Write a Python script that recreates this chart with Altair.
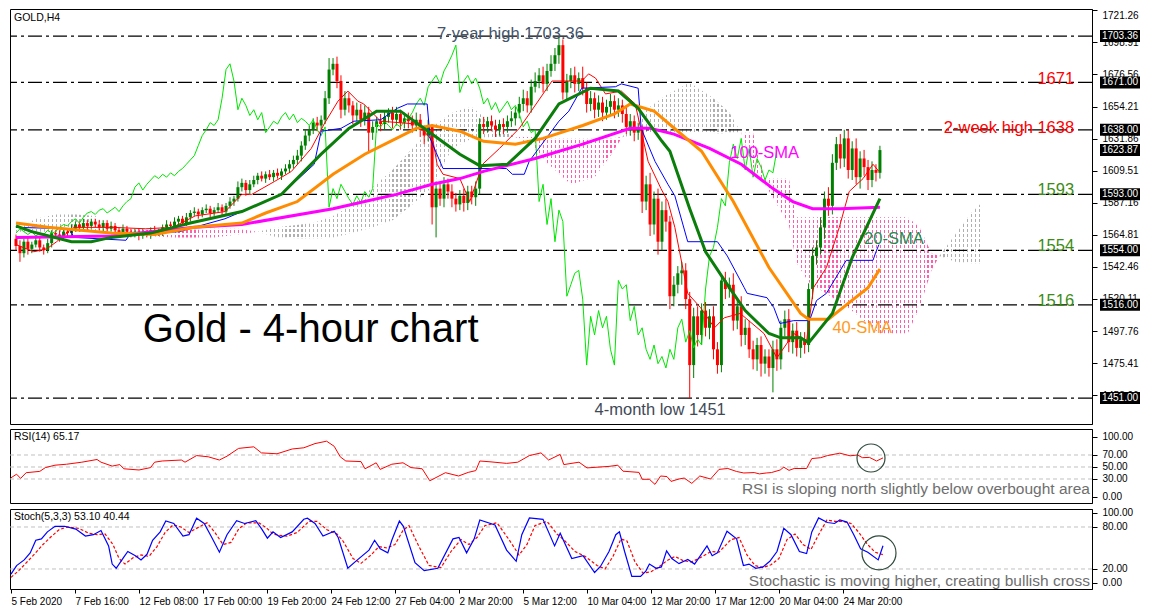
import json
import altair as alt
import numpy as np
import pandas as pd

# ---------------- layout / style constants ----------------
W = 1082
H_MAIN, H_RSI, H_STO = 415, 74, 80
PX_PER_USD = 1.4347
P_TOP = 1722.2
P_DOM = [P_TOP - H_MAIN / PX_PER_USD, P_TOP]
X_DOM = [-0.25, 270.25]
R_DOM = [-10, 113.3]
S_DOM = [-8.6, 105.7]
FONT = 'Liberation Sans'

# ---------------- data ----------------
date_labels = ['5 Feb 2020', '7 Feb 16:00', '12 Feb 08:00', '17 Feb 00:00', '19 Feb 20:00',
               '24 Feb 12:00', '27 Feb 04:00', '2 Mar 20:00', '5 Mar 12:00', '10 Mar 04:00',
               '12 Mar 20:00', '17 Mar 12:00', '20 Mar 04:00', '24 Mar 20:00']
bars_per_label = 16

price_ticks = [1721.26, 1698.91, 1676.56, 1654.21, 1631.86, 1609.51, 1587.16, 1564.81,
               1542.46, 1520.11, 1497.76, 1475.41, 1453.06]
level_prices = [1703.36, 1671.0, 1638.0, 1593.0, 1554.0, 1516.0, 1451.0]
box_prices = [1703.36, 1671.0, 1638.0, 1623.87, 1593.0, 1554.0, 1516.0, 1451.0]

first_open = 1562.0
closes = [
    1557, 1552, 1560, 1555, 1558, 1561, 1556, 1554, 1559, 1566,
    1565, 1563, 1567, 1566, 1569, 1572, 1570, 1573, 1571, 1574,
    1572, 1570, 1573, 1569, 1571, 1568, 1566, 1569, 1567, 1565,
    1567, 1564, 1566, 1565, 1568, 1566, 1567, 1570, 1572, 1571,
    1574, 1576, 1573, 1577, 1580, 1581, 1579, 1582, 1583, 1580,
    1582, 1584, 1581, 1585, 1588, 1590, 1598, 1601, 1596, 1600,
    1603, 1606, 1604, 1607, 1605, 1608, 1606, 1609, 1611, 1614,
    1617, 1620, 1627, 1634, 1638, 1643, 1641, 1645, 1660, 1680,
    1684, 1672, 1652, 1660, 1655, 1648, 1652, 1645, 1650, 1636,
    1640, 1644, 1642, 1647, 1650, 1645, 1649, 1643, 1646, 1644,
    1641, 1645, 1638, 1634, 1640, 1584, 1597, 1590, 1600, 1595,
    1590, 1586, 1592, 1587, 1595, 1591, 1597, 1642, 1640, 1644,
    1641, 1638, 1642, 1640, 1644, 1646, 1650, 1656, 1660, 1655,
    1668, 1672, 1676, 1670, 1679, 1684, 1690, 1697, 1664, 1672,
    1676, 1670, 1674, 1667, 1656, 1660, 1652, 1657, 1650, 1654,
    1658, 1652, 1655, 1649, 1640, 1644, 1636, 1638, 1588, 1600,
    1572, 1590, 1560, 1582, 1574, 1522, 1530, 1538, 1540, 1520,
    1474, 1508, 1495, 1512, 1500, 1508, 1485, 1474, 1533, 1527,
    1530, 1505, 1515, 1495, 1500, 1485, 1478, 1488, 1475, 1480,
    1472, 1485, 1478, 1500, 1506, 1490, 1498, 1486, 1492, 1488,
    1527, 1550, 1556, 1570, 1590, 1585, 1615, 1628, 1618, 1632,
    1610, 1625, 1605, 1618, 1612, 1603, 1610, 1608, 1623.87]
wick_up = [
    3, 4, 2, 3, 2, 3, 2, 2, 3, 2,
    2, 3, 2, 2, 3, 2, 2, 3, 2, 2,
    2, 3, 2, 2, 3, 2, 2, 3, 2, 2,
    2, 2, 3, 2, 2, 3, 2, 2, 3, 2,
    3, 2, 2, 3, 2, 3, 2, 2, 3, 2,
    2, 3, 2, 2, 3, 2, 4, 3, 2, 3,
    3, 2, 3, 2, 3, 2, 3, 2, 3, 3,
    3, 4, 3, 4, 3, 3, 4, 3, 5, 8,
    4, 5, 4, 5, 4, 3, 5, 4, 5, 4,
    4, 3, 5, 4, 3, 4, 5, 3, 4, 4,
    4, 5, 4, 3, 5, 2, 5, 4, 5, 4,
    5, 4, 4, 5, 4, 4, 5, 4, 5, 3,
    4, 4, 3, 4, 4, 5, 4, 5, 6, 5,
    5, 6, 5, 6, 5, 6, 5, 6.36, 4, 5,
    5, 6, 4, 8, 4, 5, 4, 5, 4, 5,
    5, 4, 5, 4, 6, 5, 4, 5, 3, 6,
    8, 5, 7, 6, 8, 4, 6, 5, 6, 5,
    5, 6, 7, 5, 6, 5, 7, 5, 4, 6,
    5, 8, 6, 7, 6, 5, 6, 5, 6, 5,
    5, 6, 7, 5, 6, 7, 5, 6, 5, 5,
    4, 6, 5, 7, 5, 8, 6, 5, 7, 6,
    6, 5, 7, 5, 6, 5, 6, 4, 3]
wick_dn = [
    3, 6, 3, 4, 3, 2, 3, 3, 2, 3,
    2, 3, 2, 3, 2, 2, 3, 2, 3, 2,
    2, 2, 3, 2, 2, 3, 2, 2, 3, 2,
    2, 3, 2, 2, 3, 2, 2, 3, 2, 2,
    2, 3, 2, 2, 3, 2, 3, 2, 2, 3,
    2, 2, 3, 2, 2, 3, 2, 3, 4, 3,
    2, 3, 2, 3, 2, 3, 2, 3, 2, 3,
    3, 3, 4, 3, 4, 3, 4, 3, 3, 4,
    4, 5, 6, 4, 5, 6, 4, 5, 4, 13,
    5, 4, 5, 4, 4, 6, 4, 5, 4, 5,
    5, 4, 5, 6, 4, 12, 21, 5, 6, 5,
    6, 5, 4, 6, 5, 5, 6, 4, 5, 4,
    4, 5, 4, 5, 4, 4, 5, 4, 5, 5,
    5, 4, 5, 6, 5, 4, 5, 6, 5, 5,
    5, 6, 5, 5, 6, 5, 6, 5, 6, 5,
    5, 6, 5, 6, 5, 6, 6, 5, 8, 6,
    8, 7, 9, 6, 7, 9, 7, 6, 8, 7,
    23, 9, 8, 7, 6, 8, 7, 6, 5, 7,
    6, 7, 6, 8, 7, 6, 7, 8, 9, 7,
    6, 17, 8, 7, 6, 7, 8, 6, 7, 6,
    5, 7, 6, 5, 8, 7, 6, 5, 7, 6,
    6, 7, 5, 8, 6, 7, 5, 6, 4]
chikou_shift = 26

sma20_i = [0, 4, 14, 19, 24, 34, 44, 57, 67, 77, 84, 91, 97, 104, 112, 117, 124, 131, 137, 145,
           152, 157, 163, 165, 167, 170, 174, 180, 184, 190, 193, 198, 200, 206, 211, 218]
sma20_v = [1571, 1567, 1560, 1560, 1563, 1566, 1573, 1581, 1593, 1621, 1639, 1651, 1651, 1637, 1621,
           1613, 1614, 1632, 1656, 1667, 1665, 1653, 1630, 1623, 1607, 1583, 1553, 1528, 1512, 1496,
           1493, 1493, 1489.5, 1510, 1549, 1590]
sma40_i = [0, 8, 24, 35, 45, 57, 63, 71, 80, 88, 96, 101, 105, 112, 118, 126, 133, 143, 151, 155,
           161, 167, 173, 181, 190, 198, 200, 205, 210, 215, 218]
sma40_v = [1573, 1570, 1566, 1565, 1570, 1573, 1580, 1588, 1607, 1621, 1632, 1639, 1641, 1637, 1630,
           1628, 1632, 1641, 1649, 1656, 1651, 1637, 1623, 1588, 1542, 1510, 1506, 1506, 1517, 1528, 1541]
sma100_i = [0, 24, 45, 57, 80, 88, 96, 105, 112, 118, 131, 143, 155, 160, 166, 175, 183, 191, 196,
            201, 208, 218]
sma100_v = [1563, 1564, 1570, 1572, 1583, 1588, 1593, 1600, 1604, 1609, 1618, 1628, 1639, 1639, 1635,
            1625, 1614, 1597, 1588, 1583, 1583, 1584]

tenkan_i = [0, 4.5, 7.75, 10.25, 14.5, 24.5, 32.75, 39.5, 45.25, 52.75, 57, 59.5, 65.25, 69.5, 74.5,
            77.75, 81.25, 83.75, 86.25, 87.75, 92, 101.25, 105.25, 106.25, 107.75, 112, 114.5, 117.75,
            122, 127, 131.25, 135.25, 142.75, 144.5, 146.25, 148.75, 152.75, 156.25, 159.5, 162.75,
            164.5, 166.25, 169.5, 172.75, 176.25, 178.75, 182.75, 188.75, 192, 196.25, 199.5, 201.25,
            204.5, 207.75, 210.25, 213.75, 216.25, 217.75]
tenkan_v = [1558, 1553, 1555, 1560, 1570, 1570, 1569, 1570, 1578, 1581, 1593, 1593, 1602, 1609, 1625,
            1642, 1658, 1665, 1658, 1656, 1644, 1642, 1630, 1614, 1607, 1604, 1588, 1614, 1625, 1639,
            1656, 1672, 1672, 1677, 1674, 1663, 1665, 1656, 1616, 1597, 1588, 1570, 1524, 1514, 1500,
            1507, 1510, 1496, 1479, 1496, 1491, 1528, 1542, 1570, 1595, 1604, 1614, 1609]
kijun_i = [0, 13.75, 14.5, 27.75, 28.75, 41.25, 46.25, 52.75, 57, 67, 75.25, 77, 82, 85.25, 92, 96.25,
           98.75, 103.75, 104.5, 107.75, 123.75, 125.25, 128.25, 129.5, 137, 139.5, 142.75, 151.25,
           152.75, 157, 157.75, 161.25, 164.5, 166.25, 169.5, 177, 179.5, 183.75, 184.5, 189.5, 191.25,
           192.75, 196.25, 200.25, 202, 204.5, 209.5, 216.25, 217, 217.75]
kijun_v = [1570, 1569, 1563, 1561, 1565, 1567, 1571, 1576, 1581, 1593, 1614, 1637, 1639, 1644, 1645,
           1653, 1656, 1656, 1632, 1611, 1611, 1607, 1607, 1616, 1644, 1651, 1667, 1668, 1670, 1667,
           1639, 1616, 1600, 1592, 1560, 1560, 1550, 1528, 1524, 1521, 1514, 1503, 1505, 1505, 1519,
           1524, 1547, 1547, 1553, 1558]

cloud_j = [0, 5, 10, 15, 20, 24, 26, 33, 40, 50, 56, 61, 66, 75, 80, 85, 90, 95, 100, 105,
           110, 115, 120, 126, 130, 134, 140, 146, 150, 153, 158, 164, 170, 176, 180, 183, 186, 189,
           195, 197, 200, 210, 218, 225, 228, 231, 233, 237, 241, 244]
span_a = [1568, 1576, 1579, 1579, 1578, 1568, 1566, 1564, 1563, 1563, 1565, 1567, 1570, 1573, 1578,
          1586, 1598, 1610, 1625, 1640, 1650, 1654, 1642, 1633, 1628, 1615, 1600, 1605, 1620, 1633,
          1650, 1662, 1671, 1660, 1650, 1636, 1612, 1600, 1572, 1545, 1532, 1514, 1496, 1496, 1514,
          1540, 1550, 1565, 1580, 1588]
span_b = [1567, 1567, 1567, 1567, 1567, 1568, 1568, 1569, 1568, 1569, 1569, 1567, 1563, 1562, 1563,
          1566, 1570, 1575, 1586, 1598, 1625, 1632, 1633, 1633, 1633, 1632, 1632, 1632, 1632, 1633,
          1635, 1635, 1635, 1635, 1636, 1636, 1636, 1604, 1604, 1577, 1577, 1577, 1577, 1577, 1570,
          1552, 1550, 1546, 1545, 1545]

rsi_i = [0, 1.4, 2.4, 3.8, 7.2, 8.6, 11, 13.9, 17.7, 21.5, 22.5, 25.3, 27.2, 28.2, 32, 34.9, 35.9,
         37.8, 42.6, 43.5, 46.4, 49.3, 52.1, 54, 56.9, 60.7, 62.6, 66.5, 70.3, 73.2, 76, 78.9, 80.8,
         82.3, 83.7, 87.5, 88.5, 91.3, 92.3, 95.2, 98, 100, 102.8, 104.7, 108.6, 111.9, 114.3, 116.2,
         117.2, 120, 123.9, 126.7, 129.6, 132.5, 134.4, 137.3, 138.2, 142, 144, 149.5, 151.7, 153,
         157, 157.8, 159.6, 161, 162.4, 164, 165, 167, 168.3, 170.2, 172.2, 174.9, 177, 179.2, 181.4,
         183.2, 185.8, 187.1, 188.8, 190.1, 192.3, 193.2, 194.5, 195.8, 198.9, 200.2, 202.4, 204.1,
         207.2, 209.8, 211.6, 212.9, 214.6, 216.4, 218]
rsi_v = [32, 38, 31, 40.5, 42.7, 49, 53, 54.6, 58, 62.5, 58, 51.5, 54, 47, 45, 49, 58, 60, 61.6, 58,
         69, 67, 61.6, 68, 81, 83.6, 73.5, 72, 80, 82, 89, 93, 84.5, 67, 60, 59, 47, 57, 46, 54.6,
         57, 49, 47, 27, 40.5, 35, 41, 44, 60, 58.5, 56, 58, 69, 73.5, 61.6, 71, 54, 58, 48.5, 51,
         53, 43, 41, 29.5, 29.5, 21, 35, 34, 26, 30, 31.6, 22.7, 35, 30, 46, 47.5, 42.5, 40, 40.7,
         38.5, 40, 40.7, 45, 49.7, 44.4, 47.5, 47.5, 64, 65.5, 69, 73, 68.6, 70, 65.5, 66, 60, 65.17]

stoch_k_i = [0, 1.4, 3.3, 4.8, 6.2, 7.6, 9.1, 11, 13.4, 16.2, 18.6, 20.6, 22.5, 24.4, 25.3, 26.3,
             28.2, 29.2, 31.1, 32.5, 34, 35.4, 37.3, 38.7, 40.7, 43, 44.5, 46.4, 48.3, 50.2, 52.1, 54,
             56.4, 58.4, 61.2, 62.7, 64.1, 65.5, 67.4, 70.3, 73.2, 74.1, 76, 78, 80.8, 81.8, 84.2,
             86.6, 89.5, 90.9, 92.3, 94.2, 95.2, 97.1, 98.1, 101, 103.3, 106.7, 110.5, 112, 113.9,
             115.8, 117.2, 121, 123.9, 126.3, 127.7, 129.6, 133, 135.9, 137.3, 140.2, 143, 145.9,
             147.4, 149.5, 151.2, 152.1, 153.4, 155.2, 157.4, 158.7, 159.6, 161.3, 162.6, 163.9,
             165.2, 167, 169.2, 170.9, 174, 175.3, 176.6, 179, 181.4, 183.1, 184.5, 186.2, 188,
             189.7, 191.5, 193.2, 195, 197.1, 198.9, 200.2, 201.9, 204.1, 205.9, 207.2, 209, 210.7,
             212.4, 214.2, 216.8, 218]
stoch_k_v = [12.7, 24.8, 33, 43, 61, 63, 73, 81, 81, 77, 67, 69, 75, 53, 27, 21, 37, 45, 39, 33,
             41, 61, 73, 88.5, 85, 67, 69, 92.5, 85, 65, 44, 69, 89, 85, 89, 77, 64, 73, 65, 73,
             91, 92.5, 85, 67, 74, 65, 21, 33, 47, 61, 49, 43, 61, 88.5, 81, 29, 17.6, 21, 63, 65,
             43, 63, 90, 83, 47, 31, 69, 93, 91, 53, 71, 35, 39, 15, 24, 45, 69, 73, 45, 9.5,
             9.5, 17, 27, 21, 23, 45.8, 35, 27.6, 33.7, 27, 53, 39, 43, 74, 63, 25, 27, 21, 23, 31,
             45, 78, 69, 45, 42, 73, 93, 86.4, 85, 90, 87, 69, 49, 44, 33, 53.1]
stoch_d_i = [0, 2, 4, 6, 8, 10, 12, 14, 17, 19.5, 21.5, 23.5, 25.5, 27, 28.5, 30.5, 32.5, 34.5, 36.5,
             38.5, 40.5, 42.5, 44.5, 47, 49, 51, 53, 55, 57, 59, 62, 64, 65.5, 67, 69, 71.5, 74.5,
             76.5, 79, 81.5, 83, 85.5, 87.5, 90, 92, 94, 96, 98, 99.5, 102, 104.5, 107.5, 110, 112.5,
             114.5, 116.5, 118.5, 121.5, 124.5, 127, 129, 131, 134, 136.5, 138.5, 141, 143.5, 146.5,
             148.5, 150.5, 152.5, 154, 156, 158, 160, 162, 164, 166, 168, 170, 172, 175, 177, 180,
             182, 184, 186, 188, 190, 192, 194, 196, 198, 200, 202, 204, 206, 208, 210, 212, 214,
             216, 218]
stoch_d_v = [8, 18, 30, 42, 55, 66, 76, 80, 78, 71, 69, 70, 55, 35, 27, 36, 40, 38, 52, 72, 83, 80,
             72, 80, 86, 72, 55, 58, 78, 86, 86, 78, 70, 68, 67, 72, 88, 88, 76, 70, 60, 35, 28, 40,
             52, 50, 55, 75, 82, 52, 25, 22, 45, 62, 55, 65, 82, 86, 62, 40, 55, 82, 88, 70, 60, 45,
             38, 25, 20, 38, 63, 60, 30, 14, 16, 23, 32, 38, 32, 30, 35, 45, 44, 62, 65, 40, 25, 22,
             26, 35, 62, 70, 55, 48, 70, 90, 88, 88, 85, 72, 56, 44, 40.44]

# ---------------- tables ----------------
n = len(closes)
opens = [first_open] + closes[:-1]
candles = pd.DataFrame({'i': range(n), 'o': opens, 'c': closes})
candles['h'] = candles[['o', 'c']].max(axis=1) + np.array(wick_up)
candles['l'] = candles[['o', 'c']].min(axis=1) - np.array(wick_dn)
candles['dir'] = np.where(candles['c'] >= candles['o'], 'up', 'down')

chikou = pd.DataFrame({'i': [k - chikou_shift for k in range(chikou_shift, n)],
                       'v': closes[chikou_shift:]})
cloud = pd.DataFrame({'j': cloud_j, 'a': span_a, 'b': span_b})
cloud['lo'] = cloud[['a', 'b']].min(axis=1)


def line_df(idx, vals):
    return pd.DataFrame({'i': idx, 'v': vals})


# ---------------- encodings ----------------
xscale = alt.Scale(domain=X_DOM, nice=False, zero=False)
label_expr = json.dumps(date_labels) + f'[round(datum.value / {bars_per_label})]'
x_axis_bottom = alt.Axis(values=list(range(0, bars_per_label * len(date_labels), bars_per_label)),
                         labelExpr=label_expr, labelAlign='left', labelPadding=3, tickSize=4,
                         title=None, grid=False, labelOverlap=False, labelFontSize=10,
                         domain=False, labelBound=False)


def XQ(field, axis=None):
    return alt.X(f'{field}:Q', scale=xscale, axis=axis)


p_axis = alt.Axis(orient='right', values=price_ticks, format='.2f', title=None, grid=False,
                  tickSize=5, labelPadding=5, labelFlush=4)
r_axis = alt.Axis(orient='right', values=[0, 30, 50, 70, 100], format='.2f', title=None,
                  grid=False, tickSize=5, labelPadding=5)
s_axis = alt.Axis(orient='right', values=[0, 20, 80, 100], format='.2f', title=None,
                  grid=False, tickSize=5, labelPadding=5)


def YP(field):
    return alt.Y(f'{field}:Q', scale=alt.Scale(domain=P_DOM, nice=False, zero=False), axis=p_axis)


def YR(field):
    return alt.Y(f'{field}:Q', scale=alt.Scale(domain=R_DOM, nice=False, zero=False), axis=r_axis)


def YS(field):
    return alt.Y(f'{field}:Q', scale=alt.Scale(domain=S_DOM, nice=False, zero=False), axis=s_axis)


def stripes(color, nbars, on=0.3):
    """vertical hatch lines, one per bar (styling of the cloud fill)"""
    stops = []
    for k in range(nbars):
        a, b, c = k / nbars, (k + on) / nbars, (k + 1) / nbars
        stops += [alt.GradientStop(color=color, offset=a), alt.GradientStop(color=color, offset=b),
                  alt.GradientStop(color='#ffffff', offset=b), alt.GradientStop(color='#ffffff', offset=c)]
    return alt.LinearGradient(gradient='linear', stops=stops, x1=0, x2=1, y1=0, y2=0)


def dash_breaks(height_px, period=5.0, gap=2.0):
    """white horizontal breaks that turn the hatch lines into dotted lines"""
    stops = []
    k = 0
    clear = 'rgba(255,255,255,0)'
    while k * period < height_px:
        a = min(1.0, k * period / height_px)
        b = min(1.0, (k * period + gap) / height_px)
        c = min(1.0, (k + 1) * period / height_px)
        stops += [alt.GradientStop(color='#ffffff', offset=a), alt.GradientStop(color='#ffffff', offset=b),
                  alt.GradientStop(color=clear, offset=b), alt.GradientStop(color=clear, offset=c)]
        k += 1
    return alt.LinearGradient(gradient='linear', stops=stops, x1=0, x2=0, y1=0, y2=1)


nb = cloud_j[-1] - cloud_j[0]
lo_min = float(cloud['lo'].min())
h_pink = (max(span_b) - lo_min) * PX_PER_USD
h_gray = (max(span_a) - lo_min) * PX_PER_USD

# ---------------- main panel ----------------
cloud_gray = alt.Chart(cloud).mark_area(color=stripes('#b0b0b0', nb)).encode(
    x=XQ('j'), y=YP('a'), y2=alt.Y2('lo'))
cloud_gray_d = alt.Chart(cloud).mark_area(color=dash_breaks(h_gray)).encode(
    x=XQ('j'), y=YP('a'), y2=alt.Y2('lo'))
cloud_pink = alt.Chart(cloud).mark_area(color=stripes('#ff5cae', nb)).encode(
    x=XQ('j'), y=YP('b'), y2=alt.Y2('lo'))
cloud_pink_d = alt.Chart(cloud).mark_area(color=dash_breaks(h_pink)).encode(
    x=XQ('j'), y=YP('b'), y2=alt.Y2('lo'))

levels = alt.Chart(pd.DataFrame({'p': level_prices})).mark_rule(
    color='black', strokeWidth=1.3, strokeDash=[14, 4, 3, 4]).encode(y=YP('p'))

ccol = alt.Color('dir:N', scale=alt.Scale(domain=['up', 'down'], range=['#008000', '#ff0000']),
                 legend=None)
wicks = alt.Chart(candles).mark_rule(strokeWidth=1).encode(x=XQ('i'), y=YP('l'), y2=alt.Y2('h'),
                                                            color=ccol)
bodies = alt.Chart(candles).mark_bar(size=3).encode(x=XQ('i'), y=YP('o'), y2=alt.Y2('c'), color=ccol)

chikou_l = alt.Chart(chikou).mark_line(color='#00e600', strokeWidth=1).encode(x=XQ('i'), y=YP('v'))
tenkan_l = alt.Chart(line_df(tenkan_i, tenkan_v)).mark_line(color='#ff0000', strokeWidth=1).encode(
    x=XQ('i'), y=YP('v'))
kijun_l = alt.Chart(line_df(kijun_i, kijun_v)).mark_line(color='#0000ff', strokeWidth=1).encode(
    x=XQ('i'), y=YP('v'))
sma100_l = alt.Chart(line_df(sma100_i, sma100_v)).mark_line(color='#ff00ff', strokeWidth=3).encode(
    x=XQ('i'), y=YP('v'))
sma40_l = alt.Chart(line_df(sma40_i, sma40_v)).mark_line(color='#ff8c00', strokeWidth=3).encode(
    x=XQ('i'), y=YP('v'))
sma20_l = alt.Chart(line_df(sma20_i, sma20_v)).mark_line(color='#0a7d0a', strokeWidth=3).encode(
    x=XQ('i'), y=YP('v'))


def ann(i, p, text, color, size=16.5, align='left', baseline='alphabetic', dy=0):
    d = pd.DataFrame({'i': [i], 'p': [p], 't': [text]})
    return alt.Chart(d).mark_text(align=align, baseline=baseline, dy=dy, fontSize=size, font=FONT,
                                  color=color).encode(x=XQ('i'), y=YP('p'), text='t:N')


annotations = [
    ann(106.25, 1703.36, '7-year high 1703.36', '#44546a', dy=3),
    ann(267, 1671.0, '1671', '#ff0000', align='right', dy=2),
    ann(267, 1638.0, '2-week high 1638', '#ff0000', align='right', dy=3),
    ann(267, 1593.0, '1593', '#3c8c14', align='right', dy=1),
    ann(267, 1554.0, '1554', '#3c8c14', align='right', dy=1),
    ann(267, 1516.0, '1516', '#3c8c14', align='right', dy=1),
    ann(180.25, 1618.3, '100-SMA', '#ff00ff'),
    ann(214, 1558.4, '20-SMA', '#1f8a50'),
    ann(206, 1496.4, '40-SMA', '#ff9a1a'),
    ann(146, 1451.0, '4-month low 1451', '#3f4a57', baseline='top', dy=4),
    ann(32, 1490.1, 'Gold - 4-hour chart', '#000000', size=40),
]

boxes_df = pd.DataFrame({'p': box_prices, 't': [f'{v:.2f}' for v in box_prices]})
boxes = alt.Chart(boxes_df).mark_tick(orient='horizontal', size=40, thickness=12, color='black',
                                      opacity=1).encode(x=alt.value(W + 28), y=YP('p'))
box_txt = alt.Chart(boxes_df).mark_text(color='white', fontSize=10, font=FONT, align='center',
                                        baseline='middle').encode(x=alt.value(W + 28), y=YP('p'),
                                                                  text='t:N')
title_main = alt.Chart(pd.DataFrame({'a': [0]})).mark_text(
    text='GOLD,H4', align='left', baseline='top', fontSize=10.5, font=FONT, color='black').encode(
    x=alt.value(4), y=alt.value(4))

main = alt.layer(cloud_gray, cloud_gray_d, cloud_pink, cloud_pink_d, levels, wicks, bodies,
                 chikou_l, tenkan_l, kijun_l, sma100_l, sma40_l, sma20_l, *annotations, boxes,
                 box_txt, title_main).properties(width=W, height=H_MAIN)

# ---------------- RSI panel ----------------
rsi_grid = alt.Chart(pd.DataFrame({'v': [30, 50, 70]})).mark_rule(
    color='#c0c0c0', strokeDash=[4, 3], strokeWidth=1).encode(y=YR('v'))
rsi_line = alt.Chart(line_df(rsi_i, rsi_v)).mark_line(color='#ff0000', strokeWidth=1).encode(
    x=XQ('i'), y=YR('v'))
rsi_circle = alt.Chart(pd.DataFrame({'i': [215], 'v': [65]})).mark_point(
    shape='circle', filled=False, size=784, color='#304a3c', strokeWidth=1.2, opacity=1).encode(
    x=XQ('i'), y=YR('v'))
rsi_title = alt.Chart(pd.DataFrame({'a': [0]})).mark_text(
    text='RSI(14) 65.17', align='left', baseline='top', fontSize=10.5, font=FONT, color='black').encode(
    x=alt.value(4), y=alt.value(3))
rsi_note = alt.Chart(pd.DataFrame({'v': [5]})).mark_text(
    text='RSI is sloping north slightly below overbought area', align='right', baseline='alphabetic',
    fontSize=15.5, font=FONT, color='#6e6e6e').encode(x=alt.value(W - 2), y=YR('v'))
rsi = alt.layer(rsi_grid, rsi_line, rsi_circle, rsi_title, rsi_note).properties(width=W, height=H_RSI)

# ---------------- Stochastic panel ----------------
sto_grid = alt.Chart(pd.DataFrame({'v': [20, 80]})).mark_rule(
    color='#c0c0c0', strokeDash=[4, 3], strokeWidth=1).encode(y=YS('v'))
sto_d = alt.Chart(line_df(stoch_d_i, stoch_d_v)).mark_line(
    color='#ff0000', strokeWidth=1.2, strokeDash=[3, 2]).encode(x=XQ('i', x_axis_bottom), y=YS('v'))
sto_k = alt.Chart(line_df(stoch_k_i, stoch_k_v)).mark_line(color='#0000ff', strokeWidth=1.2).encode(
    x=XQ('i', x_axis_bottom), y=YS('v'))
sto_circle = alt.Chart(pd.DataFrame({'i': [217], 'v': [43]})).mark_point(
    shape='circle', filled=False, size=1156, color='#304a3c', strokeWidth=1.2, opacity=1).encode(
    x=XQ('i', x_axis_bottom), y=YS('v'))
sto_title = alt.Chart(pd.DataFrame({'a': [0]})).mark_text(
    text='Stoch(5,3,3) 53.10 40.44', align='left', baseline='top', fontSize=10.5, font=FONT,
    color='black').encode(x=alt.value(4), y=alt.value(3))
sto_note = alt.Chart(pd.DataFrame({'v': [-5]})).mark_text(
    text='Stochastic is moving higher, creating bullish cross', align='right', baseline='alphabetic',
    fontSize=15.5, font=FONT, color='#6e6e6e').encode(x=alt.value(W - 2), y=YS('v'))
sto = alt.layer(sto_grid, sto_d, sto_k, sto_circle, sto_title, sto_note).properties(
    width=W, height=H_STO)

chart = alt.vconcat(main, rsi, sto, spacing=3).properties(
    padding={'left': 0, 'top': 0, 'right': 0, 'bottom': 0}
).configure_view(stroke='black', strokeWidth=1).configure_axis(
    labelFont=FONT, labelFontSize=10, labelColor='black', tickColor='black', domainColor='black',
    domainWidth=1, tickWidth=1)

chart.save('out.html', embed_options={'renderer': 'svg', 'actions': False})
